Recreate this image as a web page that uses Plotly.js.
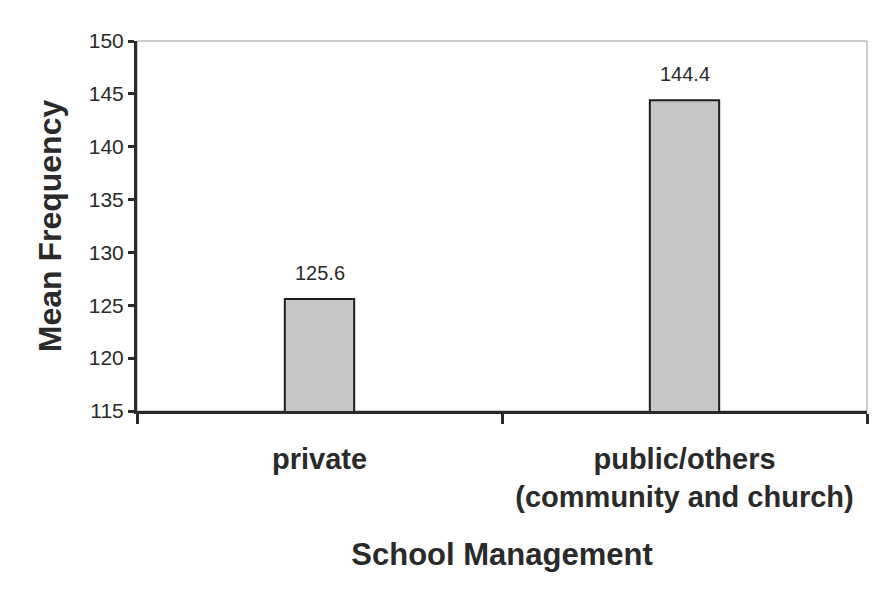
<!DOCTYPE html>
<html>
<head>
<meta charset="utf-8">
<script src="https://cdn.plot.ly/plotly-3.0.1.min.js"></script>
<style>html,body{margin:0;padding:0;background:#fff;}#chart{width:875px;height:598px;}</style>
</head>
<body>
<div id="chart"></div>
<script>
const categories = ["private", "public/others<br>(community and church)"];
const meanFrequency = [125.6, 144.4];
const valueLabels = ["125.6", "144.4"];
const yTickValues = [115, 120, 125, 130, 135, 140, 145, 150];

const fontFamily = "Liberation Sans, Arial, sans-serif";
const ink = "#2a2a2a";

const trace = {
  type: "bar",
  x: categories,
  y: meanFrequency,
  width: 0.19,
  marker: { color: "#c6c6c6", line: { color: "#1e1e1e", width: 2 } },
  hoverinfo: "skip"
};

const annotations = categories.map((c, i) => ({
  x: c, y: meanFrequency[i], xref: "x", yref: "y",
  text: valueLabels[i], showarrow: false,
  yanchor: "bottom", yshift: 13,
  font: { family: fontFamily, size: 20, color: ink }
}));

const layout = {
  width: 875, height: 598,
  margin: { l: 137, r: 8, t: 41, b: 187 },
  paper_bgcolor: "#ffffff",
  plot_bgcolor: "#ffffff",
  showlegend: false,
  bargap: 0.81,
  font: { family: fontFamily, color: ink },
  xaxis: {
    type: "category",
    tickson: "boundaries",
    ticks: "outside", ticklen: 10, tickwidth: 3, tickcolor: ink,
    showline: true, linewidth: 3, linecolor: ink,
    showgrid: false, zeroline: false,
    ticklabelstandoff: 20,
    tickfont: { family: fontFamily, size: 29, color: ink, weight: "bold" },
    title: { text: "School Management", font: { family: fontFamily, size: 31, color: ink, weight: "bold" }, standoff: 32 }
  },
  yaxis: {
    range: [115, 150],
    tickvals: yTickValues,
    ticks: "outside", ticklen: 6, tickwidth: 3, tickcolor: ink,
    showline: true, linewidth: 3, linecolor: ink,
    showgrid: false, zeroline: false,
    tickfont: { family: fontFamily, size: 21, color: ink },
    title: { text: "Mean Frequency", font: { family: fontFamily, size: 32, color: ink, weight: "bold" }, standoff: 18 }
  },
  shapes: [{
    type: "rect", xref: "paper", yref: "paper", x0: 0, x1: 1, y0: 0, y1: 1,
    line: { color: "#9a9a9a", width: 1 }, layer: "below"
  }],
  annotations: annotations
};

Plotly.newPlot("chart", [trace], layout, { displayModeBar: false, staticPlot: true });
</script>
</body>
</html>
